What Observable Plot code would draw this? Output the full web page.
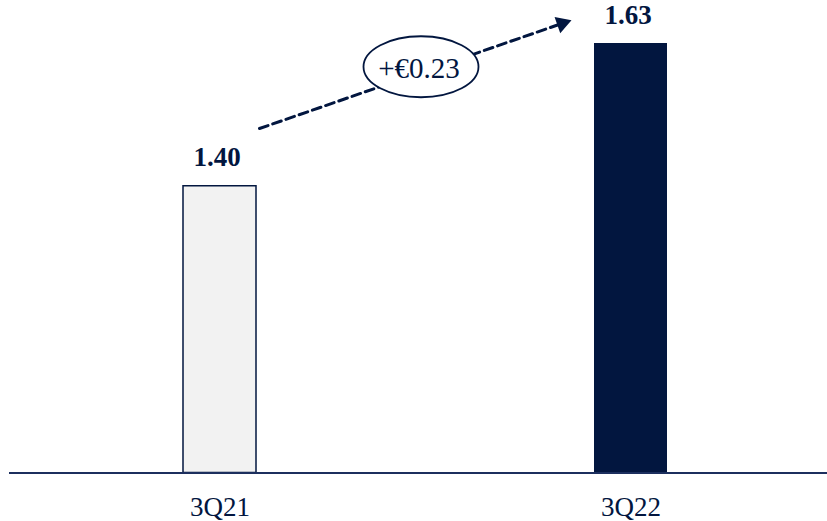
<!DOCTYPE html>
<html>
<head>
<meta charset="utf-8">
<script src="https://cdn.jsdelivr.net/npm/d3@7"></script>
<script src="https://cdn.jsdelivr.net/npm/@observablehq/plot@0.6"></script>
<style>
  html, body { margin: 0; padding: 0; background: #fff; }
  #chart svg { display: block; }
</style>
</head>
<body>
<div id="chart"></div>
<script>
const categories = ["3Q21", "3Q22"];
const values = [1.40, 1.63];
const valueLabels = ["1.40", "1.63"];
const changeLabel = "+€0.23";

const navy = "#02163f";
const font = "'Liberation Serif', 'Times New Roman', serif";

const data = categories.map((c, i) => ({ cat: c, value: values[i], label: valueLabels[i] }));
const yBase = 0.938;

// ellipse symbol for the change callout
const ellipseSymbol = {
  draw(context, size) {
    const rx = 57.5, ry = 30.5, k = 0.5523;
    context.moveTo(rx, 0);
    context.bezierCurveTo(rx, ry * k, rx * k, ry, 0, ry);
    context.bezierCurveTo(-rx * k, ry, -rx, ry * k, -rx, 0);
    context.bezierCurveTo(-rx, -ry * k, -rx * k, -ry, 0, -ry);
    context.bezierCurveTo(rx * k, -ry, rx, -ry * k, rx, 0);
    context.closePath();
  }
};

const arrowData = [{ x1: categories[0], y1: values[0], x2: categories[1], y2: values[1] }];

const chart = Plot.plot({
  width: 827,
  height: 521,
  marginLeft: 9,
  marginRight: 0,
  marginTop: 0,
  marginBottom: 48,
  style: { fontFamily: font, background: "#fff" },
  x: { domain: categories, range: [59.7, 790.5], paddingInner: 0.822, paddingOuter: 0.3, label: null },
  y: { domain: [yBase, 1.63], range: [472.5, 43], axis: null },
  marks: [
    Plot.barY(data, {
      x: "cat", y1: yBase, y2: "value",
      fill: d => d.cat === categories[0] ? "#f2f2f2" : navy,
      stroke: d => d.cat === categories[0] ? navy : "none",
      strokeWidth: 1.5
    }),
    Plot.ruleY([yBase], { stroke: "#1c2f5e", strokeWidth: 2 }),
    Plot.axisX({ tickSize: 0, tickPadding: 23, fontSize: 27, fill: navy, fontFamily: font }),
    Plot.text(data, {
      x: "cat", y: "value", text: "label", dx: -3, dy: -20,
      fontSize: 27, fontWeight: "bold", fill: navy, fontFamily: font, lineAnchor: "bottom"
    }),
    Plot.arrow(arrowData, {
      x1: "x1", y1: "y1", x2: "x2", y2: "y2", dy: -44,
      insetStart: 41.8, insetEnd: 76, headLength: 0,
      stroke: navy, strokeWidth: 3, strokeDasharray: "9,5"
    }),
    Plot.dot(arrowData, {
      x: "x2", y: "y2", dx: -68.9, dy: -20, r: 6.4, symbol: "triangle", rotate: 70.8,
      fill: navy, stroke: "none"
    }),
    Plot.dot(arrowData, {
      x: "x1", y: "y1", dx: 201, dy: -119.5, symbol: ellipseSymbol, r: 10,
      fill: "#fff", stroke: navy, strokeWidth: 1.8
    }),
    Plot.text(arrowData, {
      x: "x1", y: "y1", dx: 199, dy: -117.5, text: () => changeLabel,
      fontSize: 29, fill: navy, fontFamily: font
    })
  ]
});

document.getElementById("chart").appendChild(chart);
</script>
</body>
</html>
